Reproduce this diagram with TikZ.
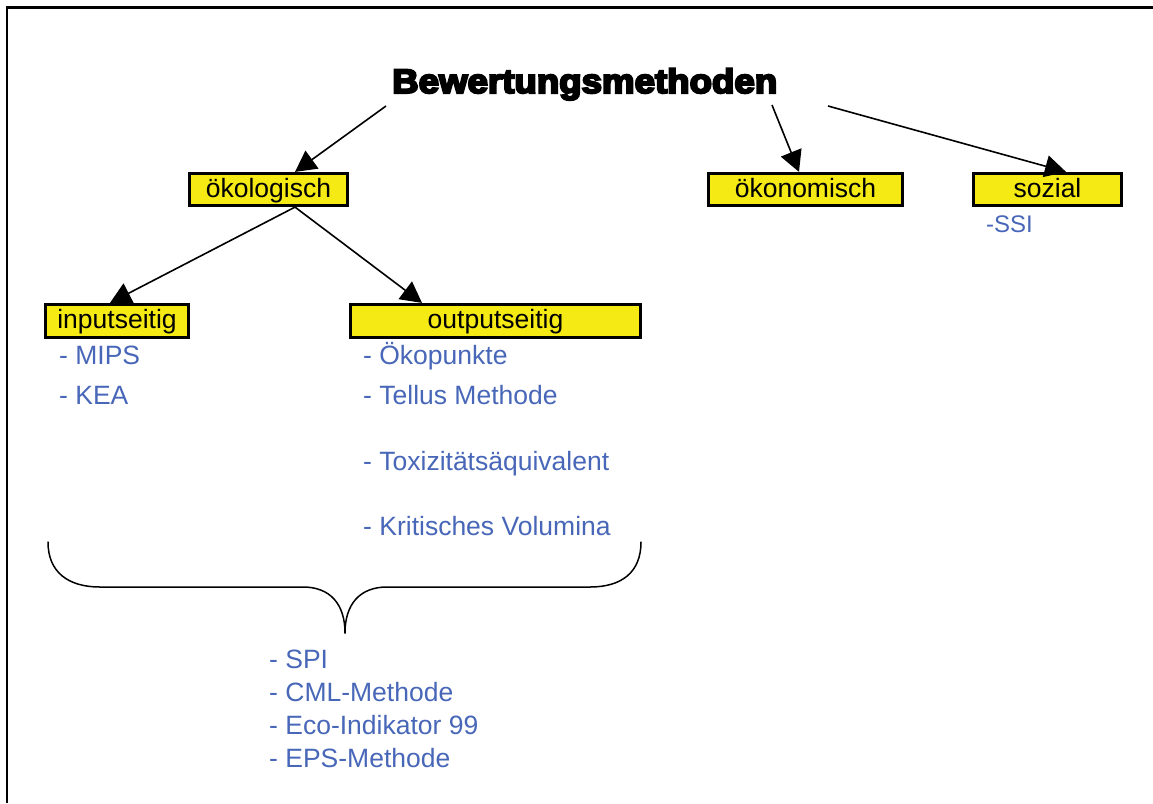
\documentclass[tikz,border=0pt]{standalone}
\usepackage{fontspec}
\setmainfont{Liberation Sans}
\newfontfamily\titlefont[FakeBold=6]{Liberation Sans}
\usetikzlibrary{calc,arrows.meta}
\definecolor{boxyellow}{RGB}{245,234,20}
\definecolor{itemblue}{RGB}{72,103,184}
\begin{document}
\begin{tikzpicture}[x=1pt,y=-1pt,
  ybox/.style={draw=black, line width=3.2pt, fill=boxyellow, inner sep=0pt,
    minimum height=32pt, text height=20.5pt, text depth=5pt,
    font=\fontsize{26.5}{30}\selectfont},
  item/.style={anchor=base west, inner sep=0pt, text=itemblue,
    font=\fontsize{26.5}{30}\selectfont},
  link/.style={line width=1.6pt, -{Triangle[length=21pt,width=22pt]}}]
\useasboundingbox (0,0) rectangle (1153,803);
\fill[white] (0,0) rectangle (1153,803);

% frame
\draw[line width=2.5pt] (7,803) -- (7,7.5) -- (1153,7.5);

% title
\node[anchor=base west, inner sep=0pt] (title) at (392,93)
  {\resizebox{385pt}{\height}{\titlefont\fontsize{34}{36}\bfseries Bewertungsmethoden}};
\coordinate (t1) at (386,106);
\coordinate (t2) at (772,105);
\coordinate (t3) at (828,106);

% category boxes
\node[ybox, minimum width=158pt] (oek)  at (268.5,189.5) {ökologisch};
\node[ybox, minimum width=194pt] (okon) at (805.5,189.5) {ökonomisch};
\node[ybox, minimum width=148pt] (soz)  at (1047.5,189.5) {sozial};
\node[ybox, minimum width=143pt, minimum height=33pt] (inp)  at (117,321) {inputseitig};
\node[ybox, minimum width=290pt, minimum height=33pt] (outp) at (495.5,321) {outputseitig};

% connectors
\draw[link] (t1) -- ($(oek.north)+(26.5,0)$);
\draw[link] (t2) -- ($(okon.north)+(-6.5,0)$);
\draw[link] (t3) -- ($(soz.north)+(18.5,0)$);
\draw[link] ($(oek.south)+(26.5,0)$) -- ($(inp.north)+(-7,0)$);
\draw[link] ($(oek.south)+(26.5,0)$) -- ($(outp.north)+(-73.5,0)$);

% method lists
\node[item, font=\fontsize{24}{28}\selectfont] (ssi) at (986,232) {-SSI};
\node[item] (mips) at (59,364) {- MIPS};
\node[item] (kea)  at (59,404) {- KEA};
\node[item] (oekp) at (363,364) {- Ökopunkte};
\node[item] (tell) at (363,404) {- Tellus Methode};
\node[item] (toxi) at (363,470.5) {- Toxizitätsäquivalent};
\node[item] (krit) at (363,535) {- Kritisches Volumina};

% brace over both groups
\draw[line width=1.5pt, line cap=round]
  (48,542) .. controls (48,572) and (68,587) .. (100,587) -- (303,587)
  .. controls (330,587) and (345,604) .. (345,633);
\draw[line width=1.5pt, line cap=round]
  (641,542) .. controls (641,572) and (622,587) .. (590,587) -- (387,587)
  .. controls (360,587) and (345,604) .. (345,633);

\node[item] (spi) at (269,668) {- SPI};
\node[item] (cml) at (269,701) {- CML-Methode};
\node[item] (eco) at (269,734) {- Eco-Indikator 99};
\node[item] (eps) at (269,767) {- EPS-Methode};
\end{tikzpicture}
\end{document}
